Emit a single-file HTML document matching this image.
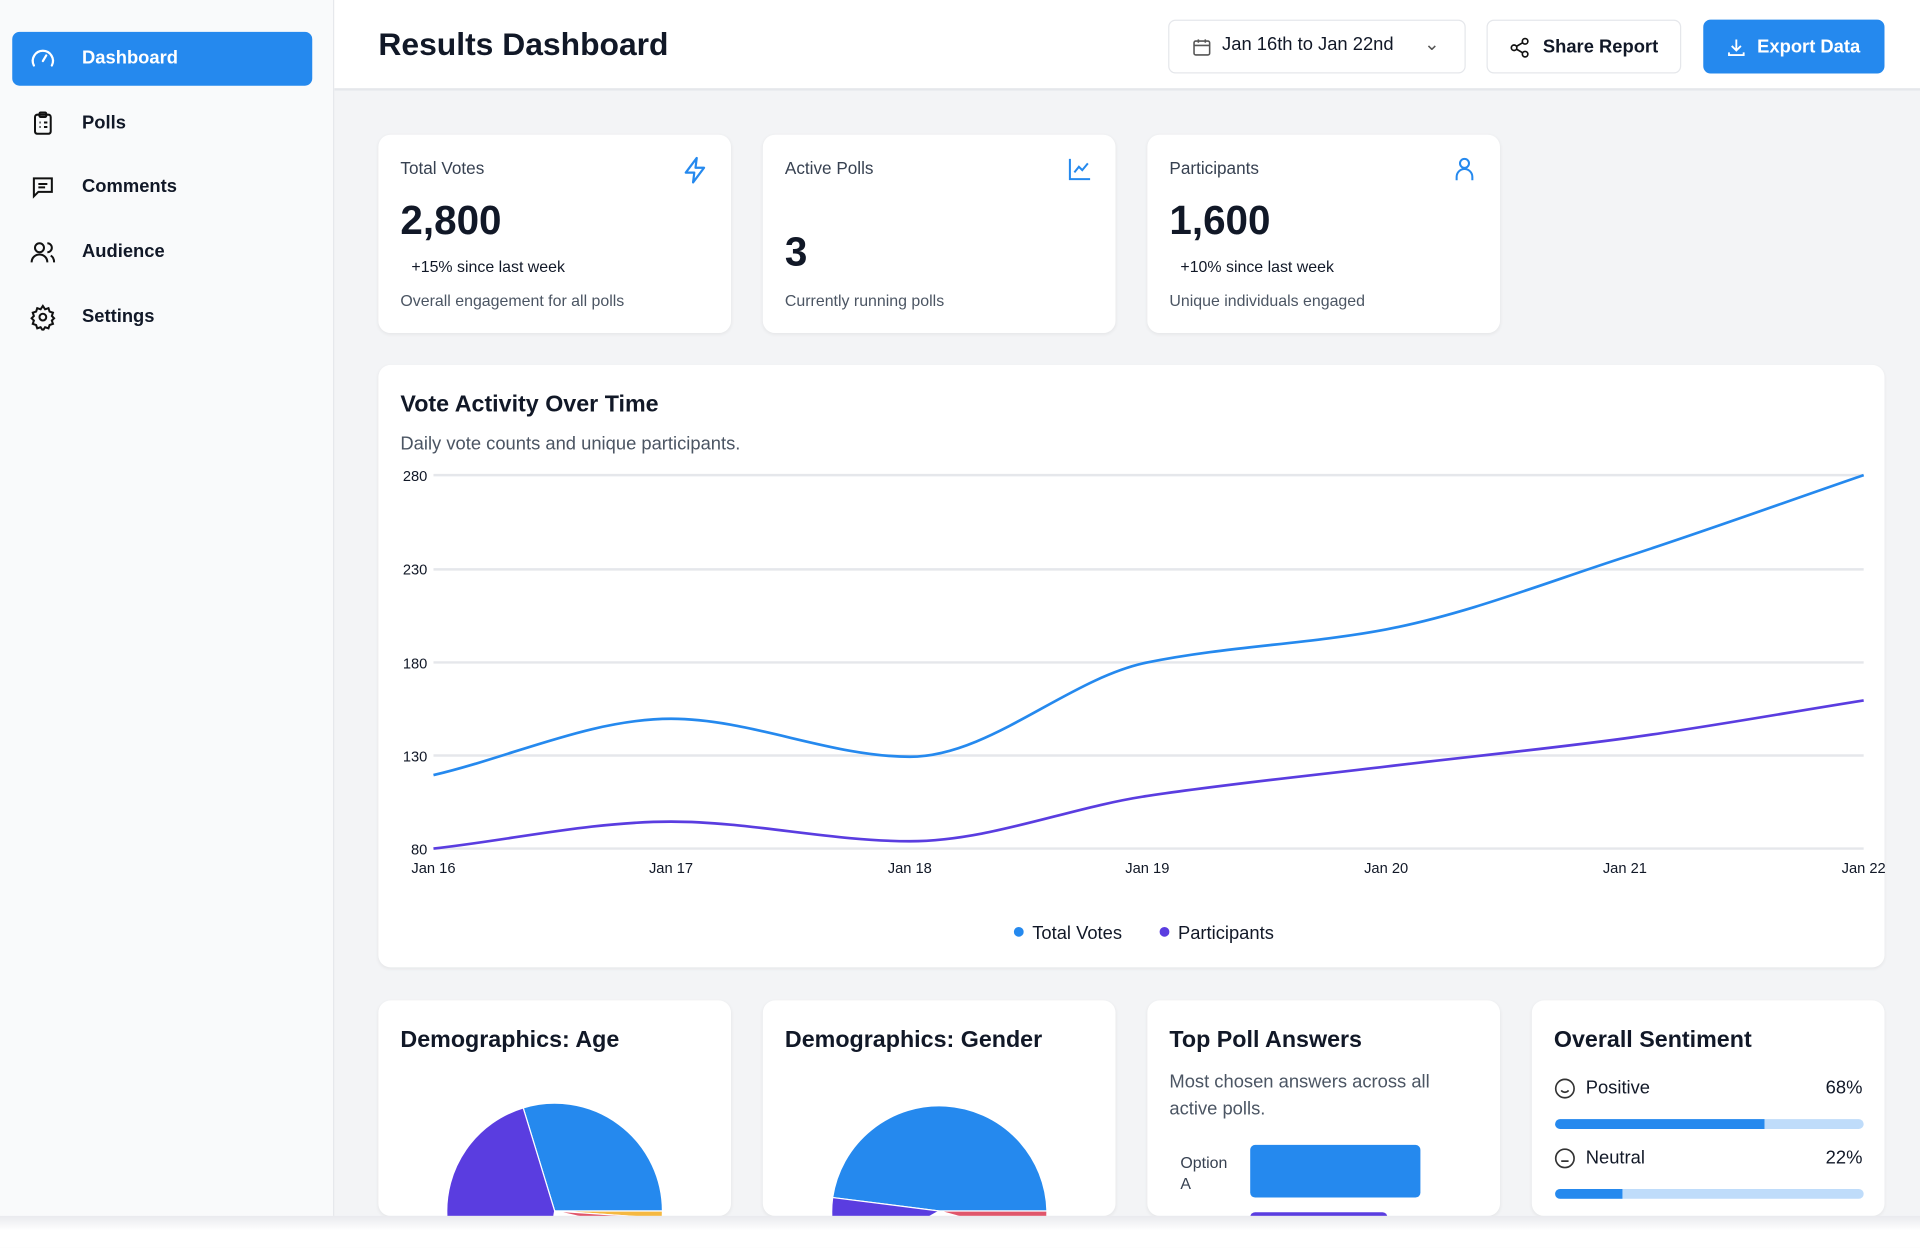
<!DOCTYPE html>
<html><head><meta charset="utf-8">
<style>
*{box-sizing:border-box;margin:0;padding:0}
html,body{width:1920px;height:1248px;overflow:hidden;background:#fff;font-family:"Liberation Sans",sans-serif}
#w{position:absolute;left:0;top:0;width:1568px;height:1019px;transform:scale(1.22449);transform-origin:0 0;background:#f3f4f6;overflow:hidden}
.abs{position:absolute}
.side{left:0;top:0;width:273px;height:993px;background:#f9fafb;border-right:1px solid #e5e7eb}
.nav{position:absolute;left:10px;width:245px;height:44px;border-radius:6px;font-size:15px;font-weight:bold;color:#111827}
.nav span{position:absolute;left:57px;top:13px}
.nav svg{position:absolute;left:14px;top:11px}
.nav.act{background:#2589ee;color:#fff}
.hdr{left:273px;top:0;width:1295px;height:74px;background:#fff;border-bottom:2px solid #e5e7eb}
.btn{position:absolute;top:16px;height:44px;border:1px solid #e5e7eb;border-radius:6px;background:#fff;font-size:15px;font-weight:bold;color:#111827}
.card{position:absolute;background:#fff;border-radius:10px;box-shadow:0 1px 3px rgba(0,0,0,.06);overflow:hidden}
.lbl{position:absolute;font-size:14px;color:#374151}
.big{position:absolute;font-size:33px;font-weight:bold;color:#111827}
.chg{position:absolute;font-size:13px;color:#111827}
.sub{position:absolute;font-size:13px;color:#4b5563}
.ttl{position:absolute;font-size:19px;font-weight:bold;color:#111827}
</style></head><body><div id="w">
<div class="abs side">
 <div class="nav act" style="top:26px"><svg width="22" height="22" viewBox="0 0 24 24" fill="none" stroke="#fff" stroke-width="2" stroke-linecap="round"><path d="M4 18a9 9 0 1 1 16 0"/><path d="M12 14l3-5"/></svg><span>Dashboard</span></div>
 <div class="nav" style="top:79px"><svg width="22" height="22" viewBox="0 0 24 24" fill="none" stroke="#111" stroke-width="1.8"><rect x="5" y="4" width="14" height="17" rx="2"/><rect x="9" y="2" width="6" height="4" rx="1"/><path d="M9 11h1M13 11h3M9 15h1M13 15h3"/></svg><span>Polls</span></div>
 <div class="nav" style="top:131px"><svg width="22" height="22" viewBox="0 0 24 24" fill="none" stroke="#111" stroke-width="1.8"><path d="M4 4h16v12H8l-4 4z"/><path d="M8 9h8M8 12h6"/></svg><span>Comments</span></div>
 <div class="nav" style="top:184px"><svg width="22" height="22" viewBox="0 0 24 24" fill="none" stroke="#111" stroke-width="1.8"><circle cx="9" cy="8" r="4"/><path d="M2 21c0-4 3-7 7-7s7 3 7 7"/><path d="M16 4a4 4 0 0 1 0 8M19 15c2 1 3 3 3 6"/></svg><span>Audience</span></div>
 <div class="nav" style="top:237px"><svg width="22" height="22" viewBox="0 0 24 24" fill="none" stroke="#111" stroke-width="1.8"><circle cx="12" cy="12" r="3"/><path d="M12 2l2 3 3-1 1 3 3 1-1 3 2 2-2 2 1 3-3 1-1 3-3-1-2 3-2-3-3 1-1-3-3-1 1-3-2-2 2-2-1-3 3-1 1-3 3 1z"/></svg><span>Settings</span></div>
</div>
<div class="abs hdr">
 <div class="abs" style="left:36px;top:21px;font-size:26px;font-weight:bold;color:#111827">Results Dashboard</div>
 <div class="btn" style="left:681px;width:243px"><svg class="abs" style="left:18px;top:13px" width="17" height="17" viewBox="0 0 24 24" fill="none" stroke="#555" stroke-width="1.8"><rect x="3" y="5" width="18" height="16" rx="2"/><path d="M3 10h18M8 3v4M16 3v4"/></svg><span class="abs" style="left:43px;top:11px;font-weight:normal;color:#111827;font-size:15px">Jan 16th to Jan 22nd</span><span class="abs" style="left:208px;top:10px;font-weight:normal;color:#555">&#8964;</span></div>
 <div class="btn" style="left:941px;width:159px"><svg class="abs" style="left:17px;top:13px" width="18" height="18" viewBox="0 0 24 24" fill="none" stroke="#111" stroke-width="1.8"><circle cx="18" cy="5" r="3"/><circle cx="6" cy="12" r="3"/><circle cx="18" cy="19" r="3"/><path d="M8.6 13.5l6.8 4M15.4 6.5l-6.8 4"/></svg><span class="abs" style="left:45px;top:13px">Share Report</span></div>
 <div class="btn" style="left:1118px;width:148px;background:#2589ee;border-color:#2589ee;color:#fff"><svg class="abs" style="left:17px;top:13px" width="18" height="18" viewBox="0 0 24 24" fill="none" stroke="#fff" stroke-width="2"><path d="M12 3v12M7 10l5 5 5-5M4 17v3h16v-3"/></svg><span class="abs" style="left:43px;top:13px">Export Data</span></div>
</div>

<div class="card" style="left:309px;top:110px;width:288px;height:162px">
 <div class="lbl" style="left:18px;top:19px">Total Votes</div>
 <svg class="abs" style="left:247px;top:17px" width="24" height="24" viewBox="0 0 24 24" fill="none" stroke="#2589ee" stroke-width="1.8" stroke-linejoin="round"><path d="M13 2L4 14h7l-1 8 9-12h-7z"/></svg>
 <div class="big" style="left:18px;top:51px">2,800</div>
 <div class="chg" style="left:27px;top:100px">+15% since last week</div>
 <div class="sub" style="left:18px;top:128px">Overall engagement for all polls</div>
</div>
<div class="card" style="left:623px;top:110px;width:288px;height:162px">
 <div class="lbl" style="left:18px;top:19px">Active Polls</div>
 <svg class="abs" style="left:248px;top:17px" width="22" height="22" viewBox="0 0 24 24" fill="none" stroke="#2589ee" stroke-width="1.8"><path d="M3 3v18h18"/><path d="M7 15l4-5 3 3 5-6"/></svg>
 <div class="big" style="left:18px;top:77px">3</div>
 <div class="sub" style="left:18px;top:128px">Currently running polls</div>
</div>
<div class="card" style="left:937px;top:110px;width:288px;height:162px">
 <div class="lbl" style="left:18px;top:19px">Participants</div>
 <svg class="abs" style="left:248px;top:17px" width="22" height="22" viewBox="0 0 24 24" fill="none" stroke="#2589ee" stroke-width="1.8"><circle cx="12" cy="7" r="4"/><path d="M5 22v-3a7 7 0 0 1 14 0v3"/></svg>
 <div class="big" style="left:18px;top:51px">1,600</div>
 <div class="chg" style="left:27px;top:100px">+10% since last week</div>
 <div class="sub" style="left:18px;top:128px">Unique individuals engaged</div>
</div>

<div class="card" style="left:309px;top:298px;width:1230px;height:492px">
 <div class="ttl" style="left:18px;top:22px">Vote Activity Over Time</div>
 <div class="abs" style="left:18px;top:56px;font-size:15px;color:#4b5563">Daily vote counts and unique participants.</div>
</div>
<svg class="abs" style="left:0;top:0" width="1568" height="1019">
 <g stroke="#e5e7eb" stroke-width="2"><path d="M354 388H1522M354 465H1522M354 541H1522M354 617H1522M354 693H1522"/></g>
 <g font-size="12" fill="#111827" text-anchor="end" font-family="Liberation Sans,sans-serif"><text x="349" y="393">280</text><text x="349" y="469">230</text><text x="349" y="546">180</text><text x="349" y="622">130</text><text x="349" y="698">80</text></g>
 <g font-size="12" fill="#111827" text-anchor="middle" font-family="Liberation Sans,sans-serif"><text x="354" y="713">Jan 16</text><text x="548" y="713">Jan 17</text><text x="743" y="713">Jan 18</text><text x="937" y="713">Jan 19</text><text x="1132" y="713">Jan 20</text><text x="1327" y="713">Jan 21</text><text x="1522" y="713">Jan 22</text></g>
 <path fill="none" stroke="#2589ee" stroke-width="2.2" d="M354,633 C419,617.7 483,587 548,587 C613,587 678,618 743,618 C808,618 872,554.3 937,541 C1002,527.7 1067,526.3 1132,514 C1197,501.7 1262,476 1327,455 C1392,434 1457,410.3 1522,388"/>
 <path fill="none" stroke="#5a3de0" stroke-width="2.2" d="M354,693 C419,685.7 483,671 548,671 C613,671 678,687 743,687 C808,687 872,659.7 937,650 C1002,640.3 1067,633.8 1132,626 C1197,618.2 1262,611.8 1327,603 C1392,594.2 1457,582.3 1522,572"/>
 <circle cx="832" cy="761" r="4" fill="#2589ee"/><text x="843" y="767" font-size="15" fill="#111827" font-family="Liberation Sans,sans-serif">Total Votes</text>
 <circle cx="951" cy="761" r="4" fill="#5a3de0"/><text x="962" y="767" font-size="15" fill="#111827" font-family="Liberation Sans,sans-serif">Participants</text>
</svg>

<div class="card" style="left:309px;top:817px;width:288px;height:176px"><div class="ttl" style="left:18px;top:22px">Demographics: Age</div></div>
<div class="card" style="left:623px;top:817px;width:288px;height:176px"><div class="ttl" style="left:18px;top:22px">Demographics: Gender</div></div>
<div class="card" style="left:937px;top:817px;width:288px;height:176px"><div class="ttl" style="left:18px;top:22px">Top Poll Answers</div>
 <div class="abs" style="left:18px;top:56px;width:250px;font-size:15px;line-height:22px;color:#4b5563">Most chosen answers across all active polls.</div>
 <div class="abs" style="left:27px;top:124px;font-size:13px;line-height:17px;color:#374151">Option<br>A</div>
 <div class="abs" style="left:84px;top:118px;width:139px;height:43px;background:#2589ee;border-radius:4px"></div>
 <div class="abs" style="left:84px;top:173px;width:112px;height:30px;background:#5a3de0;border-radius:4px"></div>
</div>
<div class="card" style="left:1251px;top:817px;width:288px;height:176px"><div class="ttl" style="left:18px;top:22px">Overall Sentiment</div>
 <svg class="abs" style="left:18px;top:63px" width="18" height="18" viewBox="0 0 24 24" fill="none" stroke="#333" stroke-width="1.8"><circle cx="12" cy="12" r="10"/><path d="M8 14s1.5 2 4 2 4-2 4-2M9 9h.01M15 9h.01"/></svg>
 <div class="abs" style="left:44px;top:63px;font-size:15px;color:#111827">Positive</div>
 <div class="abs" style="right:18px;top:63px;font-size:15px;color:#111827">68%</div>
 <div class="abs" style="left:19px;top:97px;width:252px;height:8px;background:#bfdcfa;border-radius:4px"><div style="width:171px;height:8px;background:#2589ee;border-radius:4px 0 0 4px"></div></div>
 <svg class="abs" style="left:18px;top:120px" width="18" height="18" viewBox="0 0 24 24" fill="none" stroke="#333" stroke-width="1.8"><circle cx="12" cy="12" r="10"/><path d="M8 15h8M9 9h.01M15 9h.01"/></svg>
 <div class="abs" style="left:44px;top:120px;font-size:15px;color:#111827">Neutral</div>
 <div class="abs" style="right:18px;top:120px;font-size:15px;color:#111827">22%</div>
 <div class="abs" style="left:19px;top:154px;width:252px;height:8px;background:#bfdcfa;border-radius:4px"><div style="width:55px;height:8px;background:#2589ee;border-radius:4px 0 0 4px"></div></div>
</div>
<svg class="abs" style="left:0;top:0" width="1568" height="993">
 <path fill="#2589ee" stroke="#fff" d="M453,989 L427.3,904.8 A88,88 0 0 1 541,989 Z"/>
 <path fill="#f5b841" stroke="#fff" d="M453,989 L541,989 A88,88 0 0 1 540.8,995 Z"/>
 <path fill="#e0566b" stroke="#fff" d="M453,989 L540.8,995 A88,88 0 0 1 539,1008 Z"/>
 <path fill="#5a3de0" stroke="#fff" d="M453,989 L437.7,1075.7 A88,88 0 0 1 427.3,904.8 Z"/>
 <path fill="#2589ee" stroke="#fff" d="M767,989 L680,978 A88,88 0 0 1 855,989 Z"/>
 <path fill="#e0566b" stroke="#fff" d="M767,989 L855,989 A88,88 0 0 1 852,1012 Z"/>
 <path fill="#5a3de0" stroke="#fff" d="M767,989 L690,1032 A88,88 0 0 1 680,978 Z"/>
</svg>
<div class="abs" style="left:0;top:993px;width:1568px;height:26px;background:linear-gradient(#e9eaee,#fff 12px)"></div>
</div></body></html>
